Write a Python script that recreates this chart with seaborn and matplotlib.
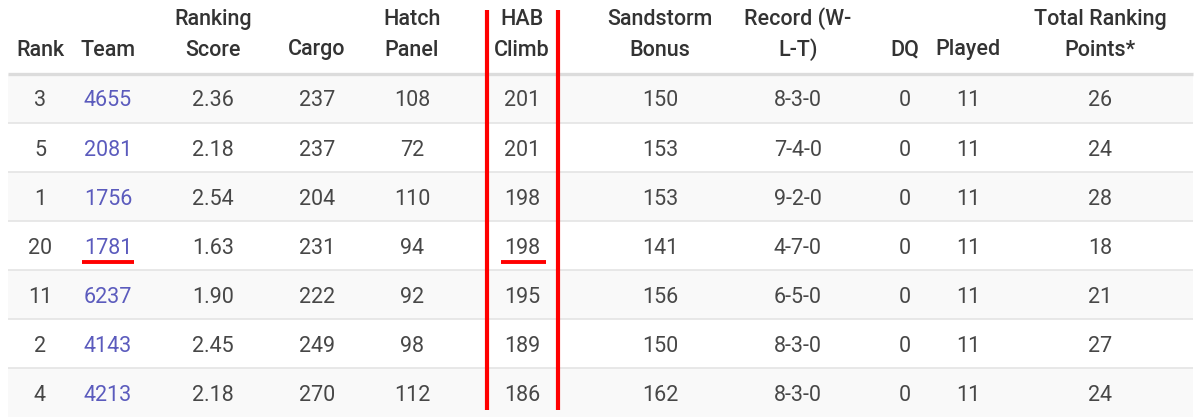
import numpy as np
import pandas as pd
import matplotlib
matplotlib.use("Agg")
import matplotlib.pyplot as plt
import seaborn as sns
from matplotlib.colors import ListedColormap

# ---------------- data ----------------
headers = [["", "Rank"], ["", "Team"], ["Ranking", "Score"], ["", "Cargo"],
           ["Hatch", "Panel"], ["HAB", "Climb"], ["Sandstorm", "Bonus"],
           ["Record (W-", "L-T)"], ["", "DQ"], ["", "Played"],
           ["Total Ranking", "Points*"]]
rank = [3, 5, 1, 20, 11, 2, 4]
team = [4655, 2081, 1756, 1781, 6237, 4143, 4213]
ranking_score = [2.36, 2.18, 2.54, 1.63, 1.90, 2.45, 2.18]
cargo = [237, 237, 204, 231, 222, 249, 270]
hatch_panel = [108, 72, 110, 94, 92, 98, 112]
hab_climb = [201, 201, 198, 198, 195, 189, 186]
sandstorm_bonus = [150, 153, 153, 141, 156, 150, 162]
record = ["8-3-0", "7-4-0", "9-2-0", "4-7-0", "6-5-0", "8-3-0", "8-3-0"]
dq = [0, 0, 0, 0, 0, 0, 0]
played = [11, 11, 11, 11, 11, 11, 11]
total_rp = [26, 24, 28, 18, 21, 27, 24]
highlight_team = 1781

df = pd.DataFrame({
    "Rank": rank, "Team": team,
    "Ranking Score": [f"{v:.2f}" for v in ranking_score],
    "Cargo": cargo, "Hatch Panel": hatch_panel, "HAB Climb": hab_climb,
    "Sandstorm Bonus": sandstorm_bonus, "Record": record, "DQ": dq,
    "Played": played, "Total Ranking Points": total_rp,
})

# ---------------- layout (pixels) ----------------
W, H = 1202, 419
col_centers = [40, 108, 213, 317, 412, 522, 660, 798, 905, 968, 1100]
TX0, TX1 = 8, 1193          # table left/right
HEAD_BOTTOM = 74            # header separator
ROW_H = 49.05

def px(p):
    return (p - TX0) / (TX1 - TX0)

def py(q):
    return (q - HEAD_BOTTOM) / ROW_H

sns.set_theme(style="white")
plt.rcParams["font.family"] = ["Roboto", "DejaVu Sans"]

fig = plt.figure(figsize=(W / 100, H / 100), dpi=100)
ax = fig.add_axes([0, 0, 1, 1])

n = len(rank)
stripes = pd.DataFrame({"bg": (np.arange(n) % 2 == 0).astype(int)})
sns.heatmap(stripes, ax=ax, cmap=ListedColormap(["#ffffff", "#f9f9f9"]),
            cbar=False, vmin=0, vmax=1, xticklabels=False, yticklabels=False)

ax.set_xlim(px(0), px(W))
ax.set_ylim(py(H), py(0))
ax.axis("off")

# separators
ax.hlines(0, 0, 1, color="#dcdcdc", lw=2.4, zorder=3)
ax.hlines(np.arange(1, n), 0, 1, color="#e4e4e4", lw=1.2, zorder=3)

FS = 15.5
head_color = "#333333"
body_color = "#474747"
link_color = "#5b5bbd"

for c, (l1, l2) in zip(col_centers, headers):
    if l1:
        ax.text(px(c), py(25), l1, ha="center", va="baseline", fontsize=FS,
                fontweight="medium", color=head_color)
    ax.text(px(c), py(55.5), l2, ha="center", va="baseline", fontsize=FS,
            fontweight="medium", color=head_color)

for i, row in df.reset_index(drop=True).iterrows():
    base = i + 32.5 / ROW_H
    for j, (c, val) in enumerate(zip(col_centers, row.values)):
        ax.text(px(c), base, str(val), ha="center", va="baseline",
                fontsize=FS, color=link_color if j == 1 else body_color)

# annotations (red marks)
red = "#ff0000"
hi = team.index(highlight_team)
ul_y = hi + (262 - HEAD_BOTTOM - 3 * ROW_H) / ROW_H
ax.hlines(ul_y, px(82), px(134), color=red, lw=2.8, zorder=4)
ax.hlines(ul_y, px(501), px(546), color=red, lw=2.8, zorder=4)
ax.vlines([px(487), px(557.5)], py(10), py(410), color=red, lw=3.0, zorder=4)

fig.savefig("out.png", dpi=100)
